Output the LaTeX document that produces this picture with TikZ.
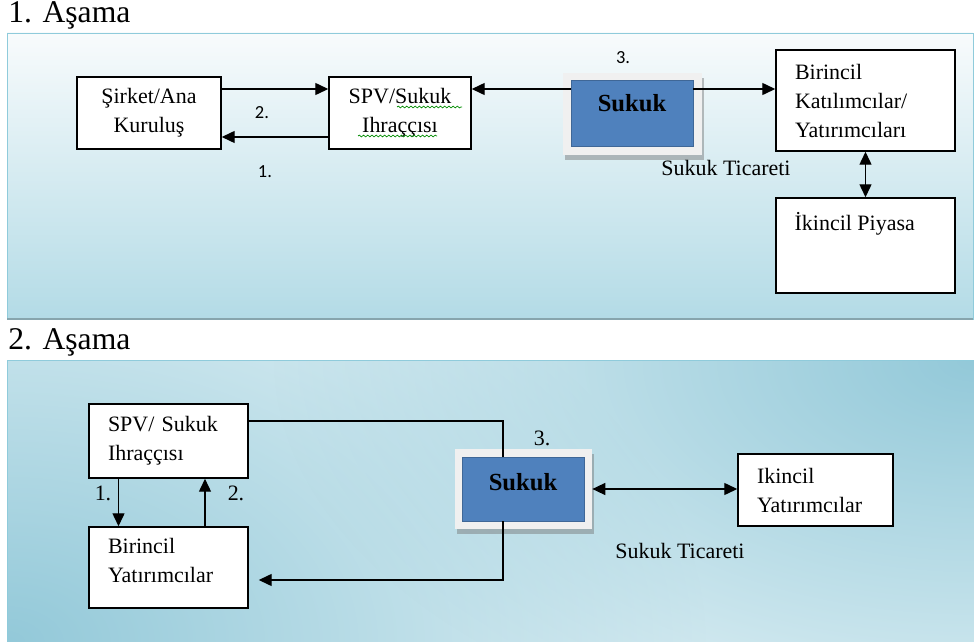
\documentclass[tikz,border=0pt]{standalone}
\usepackage{fontspec}
\setmainfont{Liberation Serif}
\newfontfamily\calibrifont{Carlito}
\usepackage{tikz}
\usetikzlibrary{arrows.meta, positioning, shadows, decorations.pathmorphing, fadings}

\definecolor{sukukblue}{HTML}{4F81BD}
\definecolor{panelline}{HTML}{8FCBDB}
\definecolor{paneltop}{HTML}{F8FBFC}
\definecolor{panelbot}{HTML}{B3DBE6}
\definecolor{glowin}{HTML}{DDEFF4}
\definecolor{glowout}{HTML}{93C9D9}
\definecolor{framegray}{HTML}{F0F0F0}

\tikzfading[name=glowfade, inner color=transparent!0, outer color=transparent!100]

\begin{document}
\begin{tikzpicture}[x=0.02cm, y=-0.02cm,
    font=\fontsize{12.5}{16.5}\selectfont,
    box/.style={draw, line width=0.85pt, fill=white, inner xsep=0.38cm, inner ysep=0pt, align=left},
    cbox/.style={draw, line width=0.85pt, fill=white, inner sep=0pt, align=center},
    sukuk/.style={fill=sukukblue, draw=sukukblue!80!black, line width=0.4pt, minimum width=2.44cm, inner sep=0pt, font=\fontsize{14}{16}\selectfont\bfseries, text height=0.3cm},
    skframe/.style={fill=framegray, inner sep=0pt, drop shadow={shadow xshift=0.04cm, shadow yshift=-0.1cm, fill=black!55, opacity=0.45}},
    arr/.style={line width=0.8pt, -{Triangle[length=2.6mm, width=2.4mm]}},
    darr/.style={line width=0.8pt, {Triangle[length=2.6mm, width=2.4mm]}-{Triangle[length=2.6mm, width=2.4mm]}},
    spell/.style={green!55!black, line width=0.4pt, decorate, decoration={snake, amplitude=0.5pt, segment length=2.4pt}},
    glow/.style={fill=glowout, path fading=glowfade},
    num/.style={font=\calibrifont\fontsize{10.5}{12}\selectfont},
    title/.style={font=\fontsize{18}{20}\selectfont, anchor=west, inner sep=0pt}]
    \useasboundingbox (0,0) rectangle (974,642);
    \fill[white] (0,0) rectangle (974,642);

    % 1. Asama
    \node[title] (t1) at (8,15) {1. Aşama};
    \draw[panelline, top color=paneltop, bottom color=panelbot] (7,33) rectangle (973,319);
    \draw[line width=1pt, gray!50!panelline] (7,319) -- (973,319);

    \node[cbox, minimum width=2.88cm, minimum height=1.44cm] (sirket) at (149,113) {Şirket/Ana\\Kuruluş};
    \node[cbox, minimum width=2.84cm, minimum height=1.44cm] (spv1) at (400,113) {SPV/Sukuk\\Ihraççısı};
    \draw[spell] (397,107) -- (462,107);
    \draw[spell] (358,136) -- (437,136);
    \node[skframe, minimum width=2.78cm, minimum height=1.64cm] (fr1) at (632.5,114) {};
    \node[sukuk, minimum height=1.32cm, text depth=0.36cm] (suk1) at (632,113) {Sukuk};
    \node[box, text width=2.82cm, minimum height=2.02cm] (bir1) at (865.5,100.5) {Birincil\\Katılımcılar/\\Yatırımcıları};
    \node[box, text width=2.82cm, minimum height=1.9cm] (ikp) at (865.5,245.5) {};
    \node[anchor=north west, inner sep=0pt] (ikptext) at ([xshift=0.38cm, yshift=-0.3cm]ikp.north west) {İkincil Piyasa};

    \draw[arr] ([yshift=0.48cm]sirket.east) -- ([yshift=0.48cm]spv1.west);
    \draw[arr] ([yshift=-0.48cm]spv1.west) -- ([yshift=-0.48cm]sirket.east);
    \draw[arr] ([yshift=0.48cm]suk1.west) -- ([yshift=0.48cm]spv1.east);
    \draw[arr] ([yshift=0.48cm]suk1.east) coordinate (s1r) -- (s1r -| bir1.west);
    \draw[darr] (bir1.south) -- (ikp.north);

    \node[num] (n12) at (262,113) {2.};
    \node[num] (n11) at (265,172) {1.};
    \node[num] (n13) at (623,58) {3.};
    \node (tic1) at (726,168) {Sukuk Ticareti};

    % 2. Asama
    \node[title] (t2) at (8,342) {2. Aşama};
    \begin{scope}
        \clip (7,360) rectangle (974,642);
        \fill[glowin] (7,360) rectangle (974,642);
        \fill[glow] (7,642) ellipse [x radius=14cm, y radius=9cm];
        \fill[glow] (974,360) ellipse [x radius=14cm, y radius=8cm];
    \end{scope}
    \draw[panelline] (7,360) rectangle (974,642);

    \node[box, text width=2.42cm, minimum height=1.48cm] (spv2) at (168.5,441) {SPV/ Sukuk\\Ihraççısı};
    \node[box, text width=2.42cm, minimum height=1.62cm, text depth=0.86cm] (bir2) at (168.5,567.5) {Birincil\\Yatırımcılar};
    \node[skframe, minimum width=2.74cm, minimum height=1.6cm] (fr2) at (523.5,489) {};
    \node[sukuk, minimum height=1.28cm, text depth=0.24cm] (suk2) at (523,489) {Sukuk};
    \node[box, text width=2.34cm, minimum height=1.44cm] (ikin) at (815.5,490) {Ikincil\\Yatırımcılar};

    \draw[arr] ([xshift=-1cm]spv2.south) -- ([xshift=-1cm]bir2.north);
    \draw[arr] ([xshift=0.73cm]bir2.north) -- ([xshift=0.73cm]spv2.south);
    \draw[line width=0.8pt] ([yshift=0.4cm]spv2.east) -| ([xshift=-0.4cm]suk2.north);
    \draw[arr] ([xshift=-0.4cm]suk2.south) |- ([xshift=0.2cm, yshift=-0.25cm]bir2.east);
    \draw[darr] (fr2.east) -- (fr2.east -| ikin.west);

    \node (n21) at (103,493) {1.};
    \node (n22) at (236,493) {2.};
    \node (n23) at (542,438) {3.};
    \node (tic2) at (680,551) {Sukuk Ticareti};
\end{tikzpicture}
\end{document}
